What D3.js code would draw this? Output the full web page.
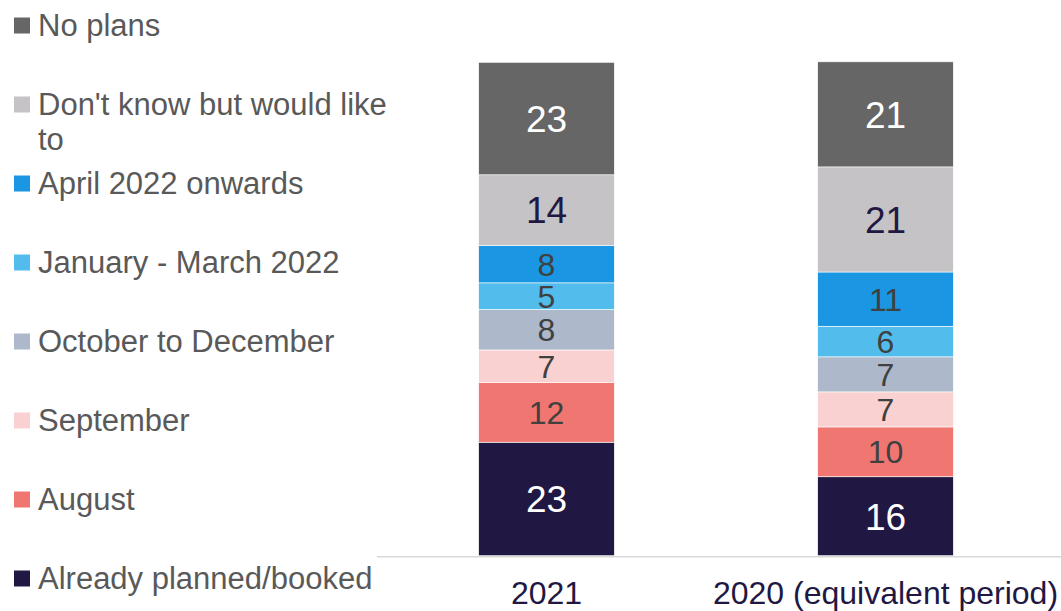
<!DOCTYPE html>
<html>
<head>
<meta charset="utf-8">
<script src="https://cdn.jsdelivr.net/npm/d3@7"></script>
<style>
	body { margin: 0; background: #fff; }
	svg { display: block; font-family: "Liberation Sans", Arial, sans-serif; }
</style>
</head>
<body>
<div id="chart"></div>
<script>
const categories = ["2021", "2020 (equivalent period)"];
// bottom of the stack first
const seriesNames = ["Already planned/booked", "August", "September", "October to December",
	"January - March 2022", "April 2022 onwards", "Don't know but would like to", "No plans"];
const values2021 = [23, 12.1, 6.6, 8.2, 5.4, 7.6, 14.3, 22.8];
const values2020 = [16, 10.1, 7.1, 7.1, 6.2, 11, 21.3, 21.3];
const seriesColors = ["#201843", "#f07672", "#f9d1d0", "#adb9ca", "#52bdec", "#1a96e3", "#c5c3c5", "#666666"];
const labelColors = ["#ffffff", "#404040", "#404040", "#404040", "#404040", "#404040", "#201843", "#ffffff"];
const labelSizes = [37, 32, 32, 32, 32, 32, 37, 37];

const width = 1061, height = 611;

const svg = d3.select("#chart")
	.append("svg")
	.attr("width", width)
	.attr("height", height);

// build rows for d3.stack
const rows = categories.map((c, i) => {
	const row = {category: c};
	const vals = i === 0 ? values2021 : values2020;
	seriesNames.forEach((s, j) => row[s] = vals[j]);
	return row;
});
const stacked = d3.stack().keys(seriesNames)(rows);

const xScale = d3.scaleBand()
	.domain(categories)
	.range([377, 1055])
	.paddingInner(0.6)
	.paddingOuter(0.3);
const yScale = d3.scaleLinear()
	.domain([0, 100])
	.range([555.7, 62.3]);

// bars
const layers = svg.selectAll(".layer")
	.data(stacked)
	.enter().append("g")
	.attr("class", "layer")
	.attr("fill", (d, i) => seriesColors[i]);

layers.selectAll("rect")
	.data(d => d)
	.enter().append("rect")
	.attr("x", d => xScale(d.data.category))
	.attr("y", d => yScale(d[1]))
	.attr("width", xScale.bandwidth())
	.attr("height", d => yScale(d[0]) - yScale(d[1]))
	.attr("stroke", "#ffffff")
	.attr("stroke-width", 0.6);

// value labels
stacked.forEach((layer, i) => {
	svg.selectAll(".lbl" + i)
		.data(layer)
		.enter().append("text")
		.attr("class", "lbl" + i)
		.attr("x", d => xScale(d.data.category) + xScale.bandwidth() / 2)
		.attr("y", d => (yScale(d[0]) + yScale(d[1])) / 2)
		.attr("dy", "0.36em")
		.attr("text-anchor", "middle")
		.attr("font-size", labelSizes[i] + "px")
		.attr("fill", labelColors[i])
		.text(d => d3.format(".0f")(d[1] - d[0]));
});

// baseline
svg.append("line")
	.attr("x1", 377).attr("x2", width)
	.attr("y1", yScale(0) + 1).attr("y2", yScale(0) + 1)
	.attr("stroke", "#d9d9d9")
	.attr("stroke-width", 1.5);

// category axis
const xAxis = svg.append("g")
	.attr("transform", "translate(0," + (yScale(0) + 1) + ")")
	.call(d3.axisBottom(xScale).tickSize(0).tickPadding(25));
xAxis.select(".domain").remove();
xAxis.selectAll("text")
	.attr("font-family", "Liberation Sans, Arial, sans-serif")
	.attr("font-size", "32px")
	.attr("fill", "#201843");

// legend, top of stack first
const legendY = d3.scalePoint()
	.domain(seriesNames.slice().reverse())
	.range([25.5, 578.5]);

const legend = svg.selectAll(".legend")
	.data(seriesNames)
	.enter().append("g")
	.attr("class", "legend")
	.attr("transform", d => "translate(0," + legendY(d) + ")");

legend.append("rect")
	.attr("x", 14)
	.attr("y", -8)
	.attr("width", 16)
	.attr("height", 16)
	.attr("fill", (d, i) => seriesColors[i]);

legend.append("text")
	.attr("x", 38)
	.attr("y", 10)
	.attr("font-size", "31px")
	.attr("fill", "#595959")
	.each(function(d) {
		// simple word wrap
		const t = d3.select(this);
		const words = d.split(" ");
		let line = [];
		let tspan = t.append("tspan").attr("x", 38).attr("dy", 0);
		words.forEach(w => {
			line.push(w);
			tspan.text(line.join(" "));
			if (tspan.node().getComputedTextLength() > 365 && line.length > 1) {
				line.pop();
				tspan.text(line.join(" "));
				line = [w];
				tspan = t.append("tspan").attr("x", 38).attr("dy", 35).text(w);
			}
		});
	});
</script>
</body>
</html>
